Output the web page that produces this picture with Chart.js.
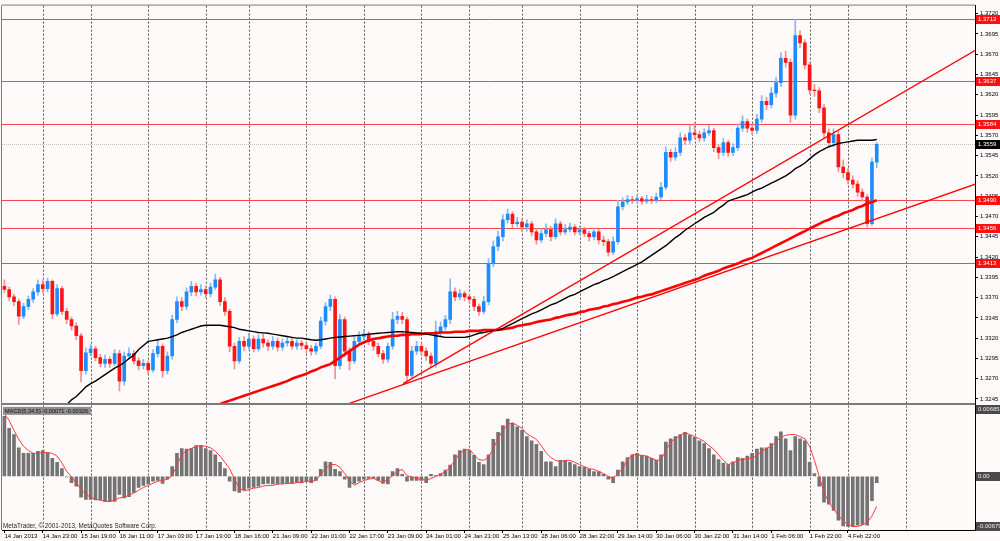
<!DOCTYPE html>
<html><head><meta charset="utf-8">
<script src="https://cdn.jsdelivr.net/npm/chart.js@4.4.1/dist/chart.umd.min.js"></script>
<style>html,body{margin:0;padding:0;background:#fffafa;overflow:hidden}canvas{display:block}</style>
</head><body>
<canvas id="c" width="1000" height="541"></canvas>
<script>
// ---- tick labels / categories ----
const timeLabels = ['14 Jan 2013','14 Jan 23:00','15 Jan 19:00','16 Jan 11:00','17 Jan 03:00','17 Jan 19:00','18 Jan 16:00','21 Jan 09:00','22 Jan 01:00','22 Jan 17:00','23 Jan 09:00','24 Jan 01:00','24 Jan 21:00','25 Jan 13:00','28 Jan 06:00','28 Jan 22:00','29 Jan 14:00','30 Jan 06:00','30 Jan 22:00','31 Jan 14:00','1 Feb 06:00','1 Feb 22:00','4 Feb 22:00'];
const labelStep = 8;
const slotCount = 203;
const separatorSlots = [8,18,30,42,51,63,75,87,97,108,120,132,144,156,168,176,188];
const priceTicks = [1.3245,1.3270,1.3295,1.3320,1.3345,1.3370,1.3395,1.3420,1.3445,1.3470,1.3495,1.3520,1.3545,1.3570,1.3595,1.3620,1.3645,1.3670,1.3695,1.3720];
const levelLines = [1.3713,1.3637,1.3584,1.3490,1.3456,1.3413];
const lastPrice = 1.3559;
const upperTrend = [[83.2,1.3264],[202.6,1.3675]];
const lowerTrend = [[71.7,1.3239],[202.6,1.3510]];
const macdAxisLabels = ['0.00685','0.00','-0.00679'];
const macdTitle = 'MACD(5,34,5) -0.00071 -0.00326';
const copyrightText = 'MetaTrader, \u00A9 2001-2013, MetaQuotes Software Corp.';

// ---- price series (EURUSD) ----
const open = [
1.3384,1.3380,1.3371,1.3365,1.3347,1.3359,1.3368,1.3377,1.3386,1.3381,
1.3390,1.3350,1.3381,1.3353,1.3343,1.3335,1.3323,1.3280,1.3302,1.3307,
1.3296,1.3289,1.3294,1.3289,1.3301,1.3267,1.3298,1.3301,1.3292,1.3286,
1.3289,1.3281,1.3301,1.3310,1.3280,1.3298,1.3343,1.3365,1.3359,1.3377,
1.3384,1.3377,1.3380,1.3375,1.3383,1.3392,1.3365,1.3353,1.3310,1.3292,
1.3316,1.3310,1.3319,1.3307,1.3319,1.3314,1.3310,1.3316,1.3309,1.3314,
1.3316,1.3310,1.3314,1.3311,1.3307,1.3304,1.3310,1.3341,1.3359,1.3368,
1.3286,1.3343,1.3304,1.3292,1.3316,1.3322,1.3325,1.3316,1.3310,1.3301,
1.3294,1.3310,1.3343,1.3347,1.3343,1.3274,1.3304,1.3310,1.3304,1.3298,
1.3289,1.3328,1.3334,1.3343,1.3377,1.3371,1.3375,1.3371,1.3368,1.3359,
1.3353,1.3365,1.3412,1.3433,1.3445,1.3466,1.3473,1.3461,1.3463,1.3457,
1.3461,1.3451,1.3441,1.3449,1.3454,1.3445,1.3461,1.3451,1.3454,1.3457,
1.3451,1.3454,1.3449,1.3445,1.3451,1.3441,1.3439,1.3426,1.3439,1.3482,
1.3488,1.3491,1.3490,1.3492,1.3489,1.3491,1.3490,1.3494,1.3506,1.3549,
1.3543,1.3549,1.3567,1.3564,1.3573,1.3571,1.3567,1.3573,1.3576,1.3555,
1.3549,1.3561,1.3549,1.3555,1.3579,1.3587,1.3579,1.3576,1.3590,1.3612,
1.3608,1.3622,1.3635,1.3665,1.3660,1.3595,1.3693,1.3684,1.3657,1.3626,
1.3625,1.3604,1.3573,1.3561,1.3571,1.3531,1.3524,1.3515,1.3510,1.3500,
1.3494,1.3461,1.3537];
const high = [
1.3392,1.3383,1.3374,1.3368,1.3363,1.3372,1.3381,1.3392,1.3392,1.3394,
1.3392,1.3386,1.3384,1.3357,1.3346,1.3339,1.3326,1.3308,1.3312,1.3310,
1.3300,1.3299,1.3297,1.3306,1.3305,1.3303,1.3308,1.3305,1.3296,1.3294,
1.3292,1.3306,1.3317,1.3313,1.3303,1.3348,1.3371,1.3370,1.3382,1.3390,
1.3388,1.3386,1.3384,1.3388,1.3399,1.3395,1.3370,1.3356,1.3314,1.3321,
1.3322,1.3326,1.3323,1.3324,1.3325,1.3318,1.3322,1.3320,1.3319,1.3321,
1.3320,1.3318,1.3317,1.3314,1.3311,1.3314,1.3346,1.3364,1.3373,1.3371,
1.3349,1.3346,1.3308,1.3321,1.3328,1.3331,1.3328,1.3320,1.3314,1.3305,
1.3314,1.3352,1.3353,1.3352,1.3346,1.3310,1.3316,1.3314,1.3308,1.3302,
1.3341,1.3340,1.3348,1.3393,1.3382,1.3380,1.3378,1.3374,1.3372,1.3362,
1.3372,1.3418,1.3440,1.3452,1.3472,1.3479,1.3476,1.3469,1.3467,1.3466,
1.3464,1.3455,1.3455,1.3461,1.3458,1.3467,1.3464,1.3460,1.3462,1.3460,
1.3458,1.3457,1.3452,1.3456,1.3454,1.3446,1.3442,1.3445,1.3490,1.3493,
1.3496,1.3495,1.3497,1.3495,1.3496,1.3495,1.3499,1.3512,1.3556,1.3553,
1.3555,1.3573,1.3571,1.3582,1.3586,1.3575,1.3578,1.3582,1.3579,1.3559,
1.3566,1.3564,1.3560,1.3584,1.3594,1.3590,1.3583,1.3596,1.3619,1.3617,
1.3629,1.3642,1.3672,1.3674,1.3664,1.3713,1.3699,1.3688,1.3660,1.3633,
1.3629,1.3608,1.3578,1.3578,1.3575,1.3540,1.3529,1.3520,1.3514,1.3504,
1.3497,1.3542,1.3561];
const low = [
1.3376,1.3366,1.3360,1.3337,1.3344,1.3355,1.3364,1.3373,1.3376,1.3377,
1.3344,1.3347,1.3349,1.3338,1.3330,1.3318,1.3266,1.3276,1.3298,1.3292,
1.3285,1.3284,1.3284,1.3286,1.3255,1.3262,1.3294,1.3288,1.3281,1.3282,
1.3276,1.3278,1.3297,1.3272,1.3276,1.3294,1.3339,1.3354,1.3355,1.3372,
1.3372,1.3373,1.3370,1.3371,1.3380,1.3360,1.3348,1.3303,1.3282,1.3289,
1.3305,1.3306,1.3303,1.3304,1.3309,1.3305,1.3306,1.3304,1.3305,1.3310,
1.3306,1.3306,1.3306,1.3302,1.3299,1.3300,1.3307,1.3336,1.3354,1.3270,
1.3282,1.3297,1.3281,1.3289,1.3312,1.3318,1.3312,1.3305,1.3297,1.3289,
1.3290,1.3306,1.3338,1.3338,1.3264,1.3270,1.3300,1.3299,1.3293,1.3285,
1.3284,1.3322,1.3330,1.3338,1.3366,1.3367,1.3366,1.3363,1.3354,1.3348,
1.3350,1.3361,1.3408,1.3428,1.3440,1.3462,1.3456,1.3457,1.3451,1.3452,
1.3446,1.3436,1.3438,1.3445,1.3440,1.3442,1.3447,1.3448,1.3451,1.3447,
1.3448,1.3445,1.3440,1.3441,1.3436,1.3434,1.3421,1.3423,1.3436,1.3478,
1.3485,1.3486,1.3487,1.3485,1.3486,1.3486,1.3487,1.3491,1.3503,1.3538,
1.3539,1.3545,1.3559,1.3560,1.3566,1.3562,1.3563,1.3570,1.3550,1.3541,
1.3545,1.3544,1.3545,1.3551,1.3575,1.3574,1.3571,1.3572,1.3586,1.3602,
1.3604,1.3617,1.3630,1.3654,1.3586,1.3590,1.3678,1.3652,1.3621,1.3618,
1.3598,1.3566,1.3555,1.3556,1.3525,1.3518,1.3510,1.3505,1.3495,1.3489,
1.3457,1.3459,1.3530];
const close = [
1.3380,1.3371,1.3365,1.3347,1.3359,1.3368,1.3377,1.3386,1.3381,1.3390,
1.3350,1.3381,1.3353,1.3343,1.3335,1.3323,1.3280,1.3302,1.3307,1.3296,
1.3289,1.3294,1.3289,1.3301,1.3267,1.3298,1.3301,1.3292,1.3286,1.3289,
1.3281,1.3301,1.3310,1.3280,1.3298,1.3343,1.3365,1.3359,1.3377,1.3384,
1.3377,1.3380,1.3375,1.3383,1.3392,1.3365,1.3353,1.3310,1.3292,1.3316,
1.3310,1.3319,1.3307,1.3319,1.3314,1.3310,1.3316,1.3309,1.3314,1.3316,
1.3310,1.3314,1.3311,1.3307,1.3304,1.3310,1.3341,1.3359,1.3368,1.3286,
1.3343,1.3304,1.3292,1.3316,1.3322,1.3325,1.3316,1.3310,1.3301,1.3294,
1.3310,1.3343,1.3347,1.3343,1.3274,1.3304,1.3310,1.3304,1.3298,1.3289,
1.3328,1.3334,1.3343,1.3377,1.3371,1.3375,1.3371,1.3368,1.3359,1.3353,
1.3365,1.3412,1.3433,1.3445,1.3466,1.3473,1.3461,1.3463,1.3457,1.3461,
1.3451,1.3441,1.3449,1.3454,1.3445,1.3461,1.3451,1.3454,1.3457,1.3451,
1.3454,1.3449,1.3445,1.3451,1.3441,1.3439,1.3426,1.3439,1.3482,1.3488,
1.3491,1.3490,1.3492,1.3489,1.3491,1.3490,1.3494,1.3506,1.3549,1.3543,
1.3549,1.3567,1.3564,1.3573,1.3571,1.3567,1.3573,1.3576,1.3555,1.3549,
1.3561,1.3549,1.3555,1.3579,1.3587,1.3579,1.3576,1.3590,1.3612,1.3608,
1.3622,1.3635,1.3665,1.3660,1.3595,1.3693,1.3684,1.3657,1.3626,1.3625,
1.3604,1.3573,1.3561,1.3571,1.3531,1.3524,1.3515,1.3510,1.3500,1.3494,
1.3461,1.3537,1.3559];
// ---- moving averages ----
const maFast = [
null,null,null,null,null,null,null,null,null,null,
null,null,null,1.3238,1.3244,1.3248,1.3254,1.3260,1.3264,1.3267,
1.3271,1.3275,1.3279,1.3283,1.3286,1.3290,1.3295,1.3299,1.3306,1.3311,
1.3316,1.3317,1.3318,1.3319,1.3320,1.3322,1.3324,1.3327,1.3329,1.3331,
1.3333,1.3335,1.3336,1.3336,1.3336,1.3336,1.3335,1.3334,1.3333,1.3331,
1.3330,1.3329,1.3328,1.3327,1.33265,1.3326,1.3325,1.3324,1.3323,1.3322,
1.3321,1.3320,1.3320,1.3319,1.3318,1.33175,1.3318,1.3319,1.3320,1.3321,
1.33215,1.3322,1.33225,1.3323,1.33235,1.3324,1.3325,1.33255,1.3326,1.33265,
1.3327,1.33275,1.3328,1.3328,1.33275,1.3327,1.33265,1.3326,1.3325,1.3324,
1.3323,1.3322,1.3321,1.3321,1.3321,1.3321,1.3321,1.3322,1.3324,1.3326,
1.3327,1.3328,1.3329,1.3330,1.3332,1.3335,1.3338,1.3341,1.3344,1.3347,
1.3350,1.3352,1.3355,1.3358,1.3361,1.3363,1.3366,1.3369,1.3372,1.3374,
1.3377,1.3380,1.3383,1.3386,1.3388,1.3391,1.3393,1.3396,1.3399,1.3402,
1.3405,1.3408,1.3411,1.3414,1.3418,1.3422,1.3426,1.3430,1.3434,1.3439,
1.3444,1.3448,1.3453,1.3457,1.3461,1.3465,1.3469,1.3472,1.3475,1.3480,
1.3484,1.3489,1.3491,1.3493,1.3495,1.3497,1.3500,1.3503,1.3505,1.3508,
1.3511,1.3514,1.3517,1.3520,1.3524,1.3529,1.3532,1.3536,1.3541,1.3546,
1.3550,1.3553,1.3556,1.3558,1.3560,1.3561,1.3562,1.3563,1.3564,1.3564,
1.3564,1.3564,1.3565];
const maSlow = [
null,null,null,null,null,null,null,null,null,null,
null,null,null,null,null,null,null,null,null,null,
null,null,null,null,null,null,null,null,null,null,
null,null,null,null,null,null,null,null,null,null,
null,null,null,null,null,1.3239,1.3241,1.3243,1.3245,1.3247,
1.3249,1.3251,1.3253,1.3255,1.3257,1.3259,1.3261,1.3263,1.3265,1.3267,
1.3270,1.3272,1.3274,1.3276,1.3279,1.3281,1.3284,1.3286,1.3288,1.3292,
1.3296,1.3300,1.3304,1.3308,1.3312,1.3315,1.3317,1.3319,1.3320,1.3321,
1.3322,1.3323,1.3323,1.3324,1.3324,1.3325,1.3325,1.3325,1.3326,1.3326,
1.3326,1.3327,1.3327,1.3327,1.3328,1.3328,1.3328,1.3329,1.3329,1.3329,
1.3330,1.3330,1.3330,1.3330,1.3331,1.3332,1.3333,1.3335,1.3336,1.3337,
1.3338,1.3340,1.3341,1.3342,1.3343,1.3345,1.3346,1.3348,1.3349,1.3350,
1.3352,1.3353,1.3355,1.3356,1.3357,1.3359,1.3360,1.3362,1.3363,1.3365,
1.3366,1.3368,1.3370,1.3371,1.3373,1.3374,1.3376,1.3378,1.3380,1.3382,
1.3384,1.3386,1.3388,1.3390,1.3392,1.3394,1.3397,1.3399,1.3401,1.3403,
1.3406,1.3408,1.3410,1.3412,1.3415,1.3417,1.3419,1.3422,1.3425,1.3428,
1.3431,1.3434,1.3437,1.3440,1.3443,1.3446,1.3449,1.3452,1.3455,1.3458,
1.3461,1.3464,1.3466,1.3469,1.3471,1.3474,1.3476,1.3478,1.3481,1.3483,
1.3486,1.3488,1.3490];
// ---- MACD ----
const macdHist = [
0.0086,0.0069,0.0060,0.0041,0.0033,0.0033,0.0033,0.0036,0.0037,0.0034,
0.0026,0.0020,0.0011,-0.0001,-0.0009,-0.0014,-0.0030,-0.0033,-0.0033,-0.0034,
-0.0034,-0.0036,-0.0036,-0.0036,-0.0026,-0.0031,-0.0029,-0.0023,-0.0016,-0.0013,
-0.0011,-0.0007,-0.0006,-0.0010,-0.0004,0.0014,0.0033,0.0040,0.0039,0.0040,
0.0044,0.0044,0.0040,0.0037,0.0031,0.0020,0.0011,-0.0007,-0.0021,-0.0023,
-0.0019,-0.0017,-0.0016,-0.0014,-0.0011,-0.0010,-0.0011,-0.0011,-0.0010,-0.0010,
-0.0010,-0.0009,-0.0009,-0.0007,-0.0009,-0.0006,0.0010,0.0021,0.0020,0.0010,
0.0007,-0.0004,-0.0016,-0.0010,-0.0007,-0.0004,-0.0003,-0.0003,-0.0006,-0.0010,
-0.0011,0.0007,0.0011,0.0003,-0.0007,-0.0006,-0.0006,-0.0006,-0.0009,0.0003,
0.0001,0.0004,0.0009,0.0016,0.0031,0.0037,0.0039,0.0037,0.0030,0.0020,
0.0017,0.0031,0.0053,0.0063,0.0073,0.0082,0.0076,0.0071,0.0066,0.0057,
0.0051,0.0046,0.0036,0.0021,0.0021,0.0014,0.0023,0.0023,0.0020,0.0017,
0.0014,0.0013,0.0010,0.0007,0.0007,0.0003,-0.0004,-0.0009,0.0009,0.0021,
0.0027,0.0031,0.0033,0.0030,0.0029,0.0026,0.0023,0.0031,0.0049,0.0054,
0.0057,0.0060,0.0063,0.0059,0.0056,0.0051,0.0047,0.0040,0.0031,0.0024,
0.0019,0.0017,0.0021,0.0027,0.0026,0.0029,0.0033,0.0039,0.0041,0.0041,
0.0047,0.0057,0.0064,0.0054,0.0037,0.0057,0.0054,0.0051,0.0020,0.0004,
-0.0014,-0.0037,-0.0040,-0.0049,-0.0063,-0.0071,-0.0072,-0.0072,-0.0070,-0.0069,
-0.0070,-0.0035,-0.0009];
const macdSignal = [
0.0090,0.0080,0.0066,0.0053,0.0043,0.0037,0.0033,0.0033,0.0034,0.0034,
0.0033,0.0029,0.0019,0.0007,-0.0001,-0.0009,-0.0019,-0.0026,-0.0030,-0.0033,
-0.0034,-0.0036,-0.0036,-0.0034,-0.0031,-0.0030,-0.0027,-0.0024,-0.0020,-0.0016,
-0.0013,-0.0010,-0.0007,-0.0006,-0.0004,0.0001,0.0016,0.0031,0.0037,0.0040,
0.0043,0.0044,0.0043,0.0041,0.0036,0.0029,0.0020,0.0011,-0.0004,-0.0017,
-0.0021,-0.0019,-0.0017,-0.0016,-0.0014,-0.0013,-0.0013,-0.0011,-0.0011,-0.0010,
-0.0010,-0.0009,-0.0009,-0.0007,-0.0007,-0.0006,0.0003,0.0011,0.0017,0.0017,
0.0013,0.0004,-0.0006,-0.0013,-0.0009,-0.0006,-0.0004,-0.0003,-0.0006,-0.0009,
-0.0004,0.0001,0.0007,0.0010,0.0001,-0.0001,-0.0003,-0.0004,-0.0006,-0.0003,
0.0000,0.0003,0.0007,0.0013,0.0023,0.0033,0.0037,0.0039,0.0031,0.0024,
0.0023,0.0027,0.0040,0.0054,0.0066,0.0074,0.0077,0.0073,0.0069,0.0061,
0.0057,0.0053,0.0044,0.0034,0.0027,0.0023,0.0021,0.0023,0.0023,0.0020,
0.0017,0.0014,0.0011,0.0010,0.0007,0.0004,0.0000,-0.0003,0.0004,0.0011,
0.0023,0.0031,0.0031,0.0030,0.0029,0.0026,0.0023,0.0024,0.0037,0.0049,
0.0054,0.0059,0.0063,0.0060,0.0057,0.0054,0.0050,0.0044,0.0039,0.0031,
0.0023,0.0017,0.0019,0.0023,0.0024,0.0026,0.0026,0.0030,0.0036,0.0040,
0.0043,0.0050,0.0056,0.0059,0.0060,0.0060,0.0057,0.0054,0.0043,0.0023,
0.0000,-0.0023,-0.0037,-0.0047,-0.0056,-0.0064,-0.0069,-0.0072,-0.0072,-0.0070,
-0.0066,-0.0057,-0.0043];

// ---- build chart ----
const FONT = 'Liberation Sans';
Chart.defaults.font.family = FONT;
const categories = Array.from({length: slotCount}, (_, i) =>
  (i % labelStep === 0 && timeLabels[i / labelStep]) ? timeLabels[i / labelStep] : '');
const isUp = close.map((c, i) => c >= open[i]);
const wickData = low.map((l, i) => [l, high[i]]);
const bodyData = open.map((o, i) => [o, close[i]]);

const decor = {
  id: 'decor',
  beforeDraw(chart) {
    const c = chart.ctx;
    c.save(); c.fillStyle = '#fffafa'; c.fillRect(0, 0, chart.width, chart.height); c.restore();
  },
  beforeDatasetsDraw(chart) {
    const c = chart.ctx, a = chart.chartArea, y = chart.scales.y, x = chart.scales.x;
    c.save();
    c.lineWidth = 1;
    c.strokeStyle = '#555'; c.setLineDash([2, 2]);
    separatorSlots.forEach(s => {
      const px = Math.round(x.getPixelForValue(s)) + 0.5;
      c.beginPath(); c.moveTo(px, a.top); c.lineTo(px, a.bottom); c.stroke();
    });
    c.strokeStyle = '#bdbdbd'; c.setLineDash([1, 1]);
    const py = Math.round(y.getPixelForValue(lastPrice)) + 0.5;
    c.beginPath(); c.moveTo(a.left, py); c.lineTo(a.right, py); c.stroke();
    c.setLineDash([]); c.strokeStyle = '#ff4545';
    levelLines.forEach(v => {
      const p = Math.round(y.getPixelForValue(v)) + 0.5;
      c.beginPath(); c.moveTo(a.left, p); c.lineTo(a.right, p); c.stroke();
    });
    c.restore();
  },
  afterDatasetsDraw(chart) {
    const c = chart.ctx, a = chart.chartArea, y = chart.scales.y, x = chart.scales.x;
    c.save();
    c.beginPath(); c.rect(a.left, y.top, a.right - a.left, y.bottom - y.top); c.clip();
    c.strokeStyle = '#ff0000'; c.lineWidth = 1.3;
    [upperTrend, lowerTrend].forEach(t => {
      c.beginPath();
      c.moveTo(x.getPixelForValue(t[0][0]), y.getPixelForValue(t[0][1]));
      c.lineTo(x.getPixelForValue(t[1][0]), y.getPixelForValue(t[1][1]));
      c.stroke();
    });
    c.restore();
  },
  afterDraw(chart) {
    const c = chart.ctx, a = chart.chartArea, y = chart.scales.y, y2 = chart.scales.y2;
    c.save();
    c.strokeStyle = '#7a7a7a'; c.lineWidth = 1;
    c.beginPath(); c.moveTo(a.left - 0.5, a.top - 0.5); c.lineTo(a.right, a.top - 0.5); c.stroke();
    c.beginPath(); c.moveTo(a.left - 0.5, a.top); c.lineTo(a.left - 0.5, a.bottom); c.stroke();
    c.fillStyle = '#7a7a7a';
    c.fillRect(a.left, Math.round(y.bottom) - 1, a.right - a.left, 2);
    c.font = '6px ' + FONT; c.textBaseline = 'middle'; c.textAlign = 'left';
    const box = (v, bg, fg, py) => {
      c.fillStyle = bg; c.fillRect(a.right + 1, Math.round(py) - 4, 25, 9);
      c.fillStyle = fg; c.fillText(v, a.right + 3, Math.round(py) + 0.5);
    };
    levelLines.forEach(v => box(v.toFixed(4), '#ff1010', '#ffffff', y.getPixelForValue(v)));
    box(lastPrice.toFixed(4), '#000000', '#ffffff', y.getPixelForValue(lastPrice));
    box(macdAxisLabels[0], '#4a4a4a', '#eeeeee', y2.top + 5);
    box(macdAxisLabels[1], '#4a4a4a', '#eeeeee', y2.getPixelForValue(0));
    box(macdAxisLabels[2], '#4a4a4a', '#eeeeee', y2.bottom - 4);
    c.font = '5.6px ' + FONT;
    c.fillStyle = '#8e8e8e'; c.fillRect(a.left + 1, y2.top + 3, 88, 8);
    c.fillStyle = '#111'; c.fillText(macdTitle, a.left + 3, y2.top + 7.5);
    c.font = '6.3px ' + FONT; c.fillStyle = '#222'; c.textBaseline = 'alphabetic';
    c.fillText(copyrightText, a.left + 1, y2.bottom - 2);
    c.restore();
  }
};

new Chart(document.getElementById('c'), {
  type: 'bar',
  data: {
    labels: categories,
    datasets: [
      {type: 'bar', data: wickData, yAxisID: 'y', grouped: false, barThickness: 1,
       backgroundColor: isUp.map(u => u ? '#82b9f0' : '#f39090'), borderWidth: 0, order: 6},
      {type: 'bar', data: bodyData, yAxisID: 'y', grouped: false, barThickness: 3,
       backgroundColor: isUp.map(u => u ? '#1e8cff' : '#ff1414'), borderWidth: 0, order: 5},
      {type: 'bar', data: macdHist, yAxisID: 'y2', grouped: false, barThickness: 3,
       backgroundColor: '#737373', borderWidth: 0, order: 6},
      {type: 'line', data: maSlow, yAxisID: 'y', borderColor: '#ff0000', borderWidth: 2.6,
       pointRadius: 0, tension: 0, spanGaps: false, order: 3},
      {type: 'line', data: maFast, yAxisID: 'y', borderColor: '#000000', borderWidth: 1.4,
       pointRadius: 0, tension: 0, spanGaps: false, order: 2},
      {type: 'line', data: macdSignal, yAxisID: 'y2', borderColor: '#ff3a3a', borderWidth: 1,
       pointRadius: 0, tension: 0, order: 1}
    ]
  },
  options: {
    responsive: false, animation: false, events: [],
    layout: {padding: {left: 2, top: 2, right: 0, bottom: 0}},
    plugins: {legend: {display: false}, tooltip: {enabled: false}},
    scales: {
      x: {
        type: 'category', position: 'bottom', offset: true,
        grid: {display: true, drawOnChartArea: false, drawTicks: true, tickLength: 3, offset: false,
               color: ctx => (ctx.tick && ctx.tick.label) ? '#000' : 'rgba(0,0,0,0)'},
        border: {display: true, color: '#000'},
        ticks: {autoSkip: false, maxRotation: 0, minRotation: 0, align: 'start', padding: 0,
                font: {size: 6, family: FONT}, color: '#000'},
        afterFit: s => { s.height = 11; }
      },
      y: {
        type: 'linear', position: 'right', stack: 'panes', stackWeight: 401,
        min: 1.3239, max: 1.3730,
        afterBuildTicks: s => { s.ticks = priceTicks.map(v => ({value: v})); },
        grid: {display: true, drawOnChartArea: false, drawTicks: true, tickLength: 3, color: '#000'},
        border: {display: true, color: '#000'},
        ticks: {callback: v => Number(v).toFixed(4), font: {size: 6, family: FONT}, color: '#000', padding: 2},
        afterFit: s => { s.width = 25; }
      },
      y2: {
        type: 'linear', position: 'right', stack: 'panes', stackWeight: 127,
        min: -0.0077, max: 0.0104,
        grid: {display: true, drawOnChartArea: false, drawTicks: false},
        border: {display: true, color: '#000'},
        ticks: {display: false},
        afterFit: s => { s.width = 25; }
      }
    }
  },
  plugins: [decor]
});
</script>
</body></html>
